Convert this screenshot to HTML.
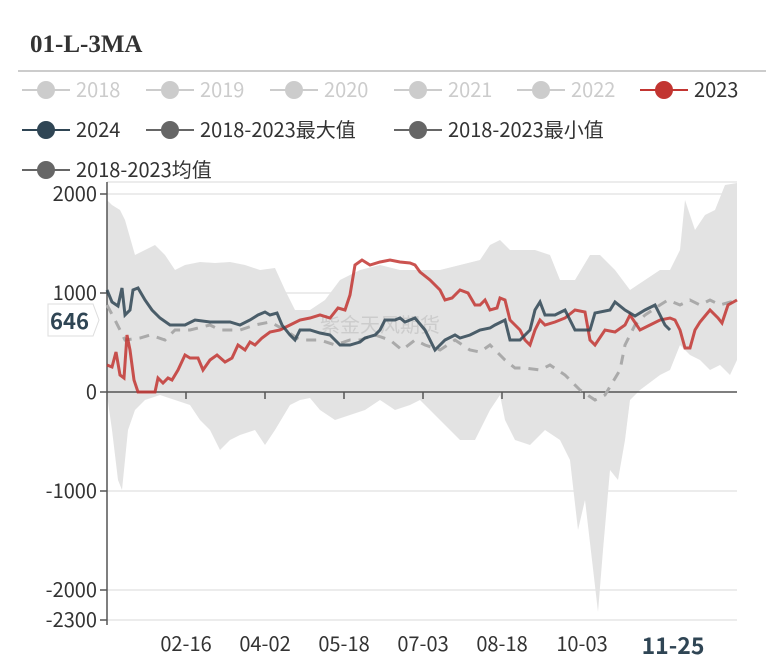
<!DOCTYPE html>
<html><head><meta charset="utf-8"><style>
body{margin:0;background:#fff;width:784px;height:665px;overflow:hidden}
</style></head><body>
<svg width="784" height="665" xmlns="http://www.w3.org/2000/svg" font-family="Noto Sans CJK SC, Liberation Sans, sans-serif">
<text x="30" y="52" font-family="Liberation Serif, serif" font-weight="bold" font-size="25" fill="#333">01-L-3MA</text>
<line x1="18" y1="71" x2="766" y2="71" stroke="#bbb" stroke-width="1.5"/>
<g font-size="20">
<g fill="#ccc" stroke="#ccc">
<line x1="22" y1="90" x2="70" y2="90" stroke-width="2"/><circle cx="46" cy="90" r="9" stroke="none"/>
<line x1="146" y1="90" x2="194" y2="90" stroke-width="2"/><circle cx="170" cy="90" r="9" stroke="none"/>
<line x1="270" y1="90" x2="318" y2="90" stroke-width="2"/><circle cx="294" cy="90" r="9" stroke="none"/>
<line x1="394" y1="90" x2="442" y2="90" stroke-width="2"/><circle cx="418" cy="90" r="9" stroke="none"/>
<line x1="517" y1="90" x2="565" y2="90" stroke-width="2"/><circle cx="541" cy="90" r="9" stroke="none"/>
</g>
<g fill="#ccc"><text x="76" y="97">2018</text><text x="200" y="97">2019</text><text x="324" y="97">2020</text><text x="448" y="97">2021</text><text x="571" y="97">2022</text></g>
<line x1="640" y1="90" x2="688" y2="90" stroke="#c23531" stroke-width="2"/><circle cx="664" cy="90" r="9" fill="#c23531"/>
<text x="694" y="97" fill="#333">2023</text>
<line x1="22" y1="130" x2="70" y2="130" stroke="#2f4554" stroke-width="2"/><circle cx="46" cy="130" r="9" fill="#2f4554"/>
<text x="76" y="137" fill="#333">2024</text>
<line x1="146" y1="130" x2="194" y2="130" stroke="#666" stroke-width="2"/><circle cx="170" cy="130" r="9" fill="#666"/>
<text x="200" y="137" fill="#333">2018-2023最大值</text>
<line x1="394" y1="130" x2="442" y2="130" stroke="#666" stroke-width="2"/><circle cx="418" cy="130" r="9" fill="#666"/>
<text x="448" y="137" fill="#333">2018-2023最小值</text>
<line x1="22" y1="170" x2="70" y2="170" stroke="#666" stroke-width="2"/><circle cx="46" cy="170" r="9" fill="#666"/>
<text x="76" y="177" fill="#333">2018-2023均值</text>
</g>
<g stroke="#e6e6e6" stroke-width="1.5">
<line x1="107" y1="182" x2="737" y2="182"/><line x1="107" y1="194" x2="737" y2="194"/>
<line x1="107" y1="293" x2="737" y2="293"/><line x1="107" y1="491" x2="737" y2="491"/>
<line x1="107" y1="590" x2="737" y2="590"/><line x1="107" y1="620" x2="737" y2="620"/>
</g>
<polygon fill="#e3e3e3" points="107,200 112,205 120,210 125,220 135,255 145,250 155,245 165,255 175,270 185,265 200,262 215,263 230,262 245,265 260,270 275,268 285,290 295,310 310,310 325,300 340,280 360,270 380,265 400,270 420,270 440,270 460,265 480,260 490,245 500,240 510,250 520,250 535,250 550,255 560,280 575,280 590,255 600,255 615,270 630,290 645,280 660,270 670,270 680,250 685,200 695,230 705,215 715,210 725,185 737,183 737,360 730,375 720,365 710,370 700,360 690,355 680,345 670,370 660,375 640,390 630,400 625,440 618,480 610,470 603,550 598,612 592,560 585,500 578,530 570,460 560,440 545,430 530,445 515,440 505,420 500,395 490,410 475,440 460,440 450,430 440,420 420,400 410,405 395,410 380,400 365,410 350,415 335,420 320,410 310,398 300,400 290,405 275,430 265,445 255,430 240,435 230,440 220,450 210,430 200,420 190,405 175,400 160,395 145,400 135,410 128,430 122,490 118,480 112,430 107,395"/>
<text x="320" y="332" font-size="20" fill="#ccc">紫金天风期货</text>
<line x1="107" y1="392" x2="737" y2="392" stroke="#555" stroke-width="1.5"/>
<line x1="107" y1="182" x2="107" y2="625" stroke="#555" stroke-width="1.5"/>
<g stroke="#555" stroke-width="1.5">
<line x1="100" y1="194" x2="107" y2="194"/><line x1="100" y1="293" x2="107" y2="293"/><line x1="100" y1="392" x2="107" y2="392"/><line x1="100" y1="491" x2="107" y2="491"/><line x1="100" y1="590" x2="107" y2="590"/><line x1="100" y1="620" x2="107" y2="620"/>
<line x1="186" y1="392" x2="186" y2="399"/><line x1="265" y1="392" x2="265" y2="399"/><line x1="344" y1="392" x2="344" y2="399"/><line x1="423" y1="392" x2="423" y2="399"/><line x1="502" y1="392" x2="502" y2="399"/><line x1="584" y1="392" x2="584" y2="399"/>
</g>
<g font-size="20" fill="#333" text-anchor="end">
<text x="97" y="201">2000</text><text x="97" y="300">1000</text><text x="97" y="399">0</text><text x="97" y="498">-1000</text><text x="97" y="597">-2000</text><text x="97" y="627">-2300</text>
</g>
<g font-size="20" fill="#333" text-anchor="middle">
<text x="186" y="651">02-16</text><text x="265" y="651">04-02</text><text x="344" y="651">05-18</text><text x="423" y="651">07-03</text><text x="502" y="651">08-18</text><text x="582" y="651">10-03</text>
<text x="673" y="654" font-weight="bold" font-size="23" fill="#2f4554">11-25</text>
</g>
<polyline fill="none" stroke="#aaa" stroke-width="3" stroke-dasharray="10,8" points="107,305 115,320 125,340 140,338 150,335 165,340 175,330 190,330 210,325 220,330 240,330 255,325 270,322 285,330 300,340 320,340 335,345 350,340 360,340 375,335 390,340 402,350 415,340 425,345 440,350 455,340 470,350 480,352 490,345 505,360 515,368 525,368 540,370 550,365 565,375 580,390 595,400 605,395 620,370 625,345 635,325 645,315 660,305 668,300 680,305 690,300 700,305 710,300 720,305 737,300"/>
<polyline fill="none" stroke="#c23531" stroke-opacity="0.85" stroke-width="3" points="107,365 112,367 116,352 120,375 124,378 127,335 130,350 134,380 138,392 155,392 158,378 163,383 168,378 172,380 178,370 185,355 190,358 198,358 203,370 210,360 217,355 225,362 232,358 238,345 245,350 250,342 255,345 262,338 270,332 280,330 290,325 300,320 310,318 320,315 330,318 338,308 345,310 350,295 355,265 362,260 370,265 380,262 390,260 400,262 410,263 415,265 420,272 430,280 440,290 445,300 452,298 460,290 468,293 475,305 480,305 485,300 490,310 497,308 500,298 505,300 510,320 515,325 520,330 525,340 530,345 535,330 540,320 545,325 555,322 565,318 575,310 585,312 590,340 595,345 605,330 615,332 625,325 630,315 640,330 650,325 660,320 670,318 675,320 680,330 685,348 690,348 695,330 700,322 710,310 718,318 722,323 728,305 737,300"/>
<polyline fill="none" stroke="#2f4554" stroke-opacity="0.85" stroke-width="3" points="107,290 112,302 118,306 122,288 125,315 130,310 133,290 138,288 145,300 152,310 160,318 170,325 185,325 195,320 210,322 230,322 240,325 250,320 258,315 265,312 270,315 277,313 282,325 290,335 295,340 300,330 310,330 320,333 330,335 340,345 350,345 360,342 365,338 375,335 380,330 385,320 395,320 400,318 405,322 415,318 425,330 435,350 445,340 455,335 460,338 470,335 480,330 490,328 495,325 505,320 510,340 520,340 530,330 535,310 540,302 545,315 555,315 565,310 575,330 590,330 595,313 610,310 615,302 625,310 635,316 645,310 655,305 665,325 670,330"/>
<path d="M48,304 H93 L99,320 L93,336 H48 Z" fill="#fff" stroke="#ddd"/>
<text x="50" y="329" font-size="22" font-weight="bold" fill="#2f4554">646</text>
</svg>
</body></html>
